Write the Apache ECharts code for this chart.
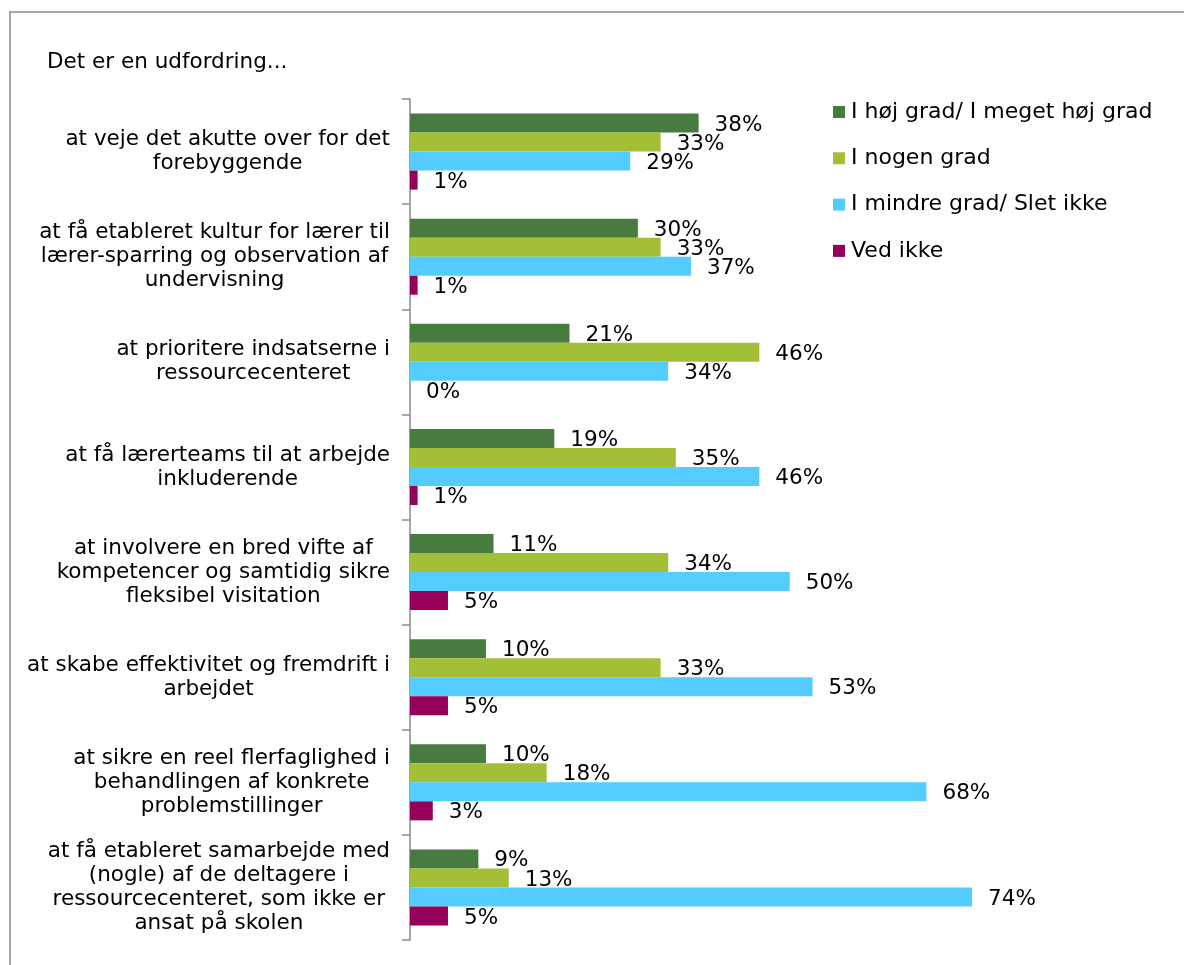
<!DOCTYPE html>
<html>
<head>
<meta charset="utf-8">
<script src="https://cdn.jsdelivr.net/npm/echarts@6/dist/echarts.min.js"></script>
<style>html,body{margin:0;padding:0;background:#fff;}#c{width:1184px;height:965px;}</style>
</head>
<body>
<div id="c"></div>
<script>
const categories = [
  "at veje det akutte over for det\nforebyggende",
  "at få etableret kultur for lærer til\nlærer-sparring og observation af\nundervisning",
  "at prioritere indsatserne i\nressourcecenteret",
  "at få lærerteams til at arbejde\ninkluderende",
  "at involvere en bred vifte af\nkompetencer og samtidig sikre\nfleksibel visitation",
  "at skabe effektivitet og fremdrift i\narbejdet",
  "at sikre en reel flerfaglighed i\nbehandlingen af konkrete\nproblemstillinger",
  "at få etableret samarbejde med\n(nogle) af de deltagere i\nressourcecenteret, som ikke er\nansat på skolen"
];
const seriesNames = ["I høj grad/ I meget høj grad", "I nogen grad", "I mindre grad/ Slet ikke", "Ved ikke"];
const hoejGrad = [38, 30, 21, 19, 11, 10, 10, 9];
const nogenGrad = [33, 33, 46, 35, 34, 33, 18, 13];
const mindreGrad = [29, 37, 34, 46, 50, 53, 68, 74];
const vedIkke = [1, 1, 0, 1, 5, 5, 3, 5];
const colors = ["#477B3F", "#A3BF38", "#55CCFF", "#95005A"];
const title = "Det er en udfordring...";

const FONT = "DejaVu Sans";
const FS = 21.5;
const chart = echarts.init(document.getElementById('c'));
const values = [hoejGrad, nogenGrad, mindreGrad, vedIkke];
chart.setOption({
  animation: false,
  backgroundColor: '#fff',
  color: colors,
  textStyle: { fontFamily: FONT },
  title: {
    text: title, left: 47, top: 51, padding: 0,
    textStyle: { fontFamily: FONT, fontSize: FS, fontWeight: 'normal', color: '#000' }
  },
  graphic: [{
    type: 'rect', z: -10, silent: true,
    shape: { x: 10, y: 12, width: 1300, height: 1100 },
    style: { fill: 'none', stroke: '#8a8a8a', lineWidth: 1.5 }
  }],
  legend: {
    orient: 'vertical', left: 833, top: 101, itemWidth: 12, itemHeight: 12, itemGap: 24.3,
    icon: 'rect', padding: 0,
    textStyle: { fontFamily: FONT, fontSize: 22, color: '#000', padding: [0, 0, 0, 1] },
    data: seriesNames
  },
  grid: { left: 410, top: 99, bottom: 25, right: 14.5, containLabel: false },
  xAxis: {
    type: 'value', min: 0, max: 100,
    axisLine: { show: false }, axisTick: { show: false }, axisLabel: { show: false }, splitLine: { show: false }
  },
  yAxis: {
    type: 'category', inverse: true, data: categories,
    axisLine: { show: true, lineStyle: { color: '#8a8a8a', width: 1.5 } },
    axisTick: { show: true, length: 8, lineStyle: { color: '#8a8a8a', width: 1.5 } },
    axisLabel: {
      margin: 20, color: '#000', fontFamily: FONT, fontSize: FS, lineHeight: 24,
      formatter: v => v.split('\n').map(l => '{c|' + l + '}').join('\n'),
      rich: { c: { align: 'center', fontFamily: FONT, fontSize: FS, lineHeight: 24, color: '#000' } }
    }
  },
  series: seriesNames.map((n, i) => ({
    name: n, type: 'bar', data: values[i],
    barGap: '0%', barCategoryGap: '27.6%',
    itemStyle: { color: colors[i] },
    label: {
      show: true, position: 'right', distance: 16, offset: [0, 2],
      formatter: p => p.value + '%',
      fontFamily: FONT, fontSize: FS, color: '#000'
    }
  }))
});
</script>
</body>
</html>
